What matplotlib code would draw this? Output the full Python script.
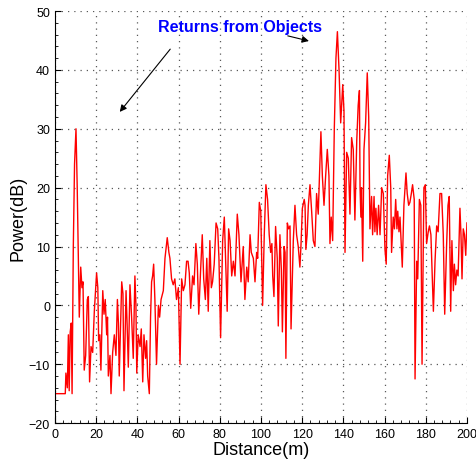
import matplotlib
matplotlib.use('Agg')
import matplotlib.pyplot as plt
from matplotlib.ticker import AutoMinorLocator

plt.rcParams['font.family'] = ['Liberation Sans', 'DejaVu Sans']

# distance (m) and received power (dB)
dist = [0, 5.0, 5.3, 6.0, 6.5, 6.9, 7.4, 7.9, 8.3, 8.9, 9.5, 10.2, 10.8, 11.8,
        12.5, 13.1, 13.6, 14.2, 14.9, 15.7, 16.2, 16.8, 17.5, 18.3, 19.1, 20.2,
        20.8, 21.2, 21.8, 22.3, 23.2, 23.8, 24.4, 25.1, 25.5, 25.9, 26.7, 27.2,
        28.0, 28.8, 29.6, 30.3, 30.8, 31.2, 32.4, 33.0, 33.5, 34.5, 35.0, 35.6,
        36.4, 37.2, 38.0, 38.8, 39.3, 39.7, 40.4, 41.3, 41.9, 42.6, 43.2, 44.0,
        44.5, 45.0, 45.8, 46.4, 46.9, 47.4, 47.9, 48.5, 49.3, 50.2, 50.8, 51.5,
        52.6, 53.4, 54.5, 55.3, 55.8, 56.6, 57.4, 58.2, 59.0, 59.9, 60.7, 61.5,
        62.3, 63.1, 63.9, 64.6, 65.2, 65.9, 66.8, 67.5, 68.4, 69.1, 69.8, 70.7,
        71.5, 72.2, 73.0, 73.7, 74.4, 75.2, 75.9, 76.5, 77.3, 78.2, 79.0, 79.6,
        80.4, 81.4, 82.2, 82.9, 83.6, 84.3, 85.0, 85.8, 86.6, 87.4, 88.5, 89.3,
        90.3, 91.4, 92.2, 93.1, 93.8, 94.7, 95.3, 96.3, 97.1, 97.9, 98.4, 99.2,
        99.9, 100.8, 101.6, 102.4, 103.2, 104.0, 104.7, 105.3, 105.7, 106.3,
        107.1, 107.9, 108.4, 109.2, 109.9, 110.4, 111.2, 111.7, 112.1, 112.8,
        113.4, 114.1, 114.6, 115.7, 116.5, 117.3, 118.1, 118.9, 119.4, 120.1,
        121.0, 121.4, 121.8, 122.4, 123.0, 123.8, 124.6, 125.4, 126.2, 127.0,
        127.8, 129.1, 129.8, 130.6, 131.4, 132.2, 133.0, 133.5, 134.1, 134.8,
        135.6, 136.4, 137.1, 137.9, 138.7, 139.7, 140.3, 140.8, 141.6, 142.4,
        143.2, 144.0, 144.8, 145.6, 146.5, 147.2, 147.8, 148.1, 148.5, 148.8,
        149.4, 150.0, 150.8, 151.6, 152.3, 152.9, 153.7, 154.2, 154.9, 155.3,
        155.8, 156.4, 157.1, 157.8, 158.6, 159.4, 160.2, 160.8, 161.5, 162.3,
        163.0, 163.4, 164.2, 164.8, 165.4, 166.0, 166.4, 167.0, 167.5, 168.0,
        168.6, 169.4, 170.4, 171.0, 171.7, 172.3, 173.0, 173.6, 174.4, 174.8,
        175.6, 176.1, 176.9, 177.6, 178.2, 179.1, 179.8, 180.4, 181.2, 181.8,
        182.5, 183.7, 184.5, 185.3, 186.0, 186.9, 187.7, 188.5, 189.2, 190.1,
        190.8, 191.4, 192.1, 192.7, 193.4, 193.9, 194.5, 195.1, 195.7, 196.6,
        197.1, 197.6, 198.2, 198.8, 199.4, 200.0]
power = [-15, -15, -11.5, -14, -5, -14.5, -4.5, -3, -15, 10, 24, 30, 20, -2,
         6.5, 3, 4, -11, -8.5, 1, 1.5, -13, -7, -8, -1, 5.5,
         3, -6, -5, -11, 2.5, -1.5, 1, -5, -2, -12, -8.5, -15,
         -8, -5, -8.5, 1, -3, -12, 4, 2, -14.5, 2.5, -3, -10.5,
         3.5, -2, -9, 5, 0, -11.5, -5, -7, -4, -13, -5, -9,
         -6, -12, -15, -2, 4, 5, 7, 1, -10, 0, -2, 1,
         2.5, 8, 11.5, 9, 8, 4.5, 3.5, 4.5, 1, 3, -10, 4.5,
         2.5, 3.5, 7.5, 7.5, 5.5, -0.5, 5, 3.5, 10.5, 7, -1.5, 6,
         12, 4.5, 1, 8, -1, 11, 3, 4, 7, 14, 13, 8,
         -5.5, 11, 15, 7, -1, 13, 11, 5, 7.5, 5, 15.5, 12,
         4, 10, 1, 6.5, 4, 12, 9, 8, 4, 9, 8, 17.5,
         16, 0, 12, 20.5, 18, 12, 9, 10.5, 5, 1.5,
         13.4, 8, -3.5, 12, 6, -4.5, 10, 9, -9, 14,
         13, 13.5, -4, 11, 17, 12, 10, 6.5, 10, 16.5,
         18, 17, 9.5, 12, 17, 20.5, 16, 11, 10, 19,
         15.5, 29.5, 22, 17, 22, 26.5, 22, 10.5, 15, 11,
         30, 42, 46.5, 40, 31, 37.5, 33, 9, 26, 25,
         15.5, 28.5, 26.5, 14.5, 28, 34, 36.5, 20, 15, 20,
         7.5, 26.5, 31, 39.5, 32, 13, 18.5, 12, 18.5, 12.5,
         16.5, 12, 17, 12, 20, 19, 9.5, 7, 22, 25.5,
         20, 9, 15, 13, 18, 13, 16, 12.5, 15, 11,
         6.5, 17, 22.5, 19, 17, 17.5, 19, 20.5, 18, -12.5,
         7.5, 4.5, 18, 17, -10, 20, 20.5, 10.5, 12.5, 13.5,
         12, -1, 7.5, 13.5, 12.5, 19, 19, 12, -1.5, 10,
         17, 18.5, -1, 11, 2.5, 7, 3.5, 6, 5, 16.5,
         12, 4.5, 13, 12, 8.5, 14]

fig = plt.figure(figsize=(4.76, 4.64), dpi=100)
ax = fig.add_axes([0.1155, 0.086, 0.8655, 0.888])

ax.plot(dist, power, color='red', lw=1.0)

ax.set_xlim(0, 200)
ax.set_ylim(-20, 50)
ax.set_xticks(range(0, 201, 20))
ax.set_yticks(range(-20, 51, 10))
ax.set_yticklabels(['\u221220', '\u221210', '0', '10', '20', '30', '40', '50'])
ax.xaxis.set_minor_locator(AutoMinorLocator(5))
ax.yaxis.set_minor_locator(AutoMinorLocator(5))
ax.tick_params(which='both', direction='in', labelsize=9, top=False, right=False)
ax.tick_params(which='major', length=4)
ax.tick_params(which='minor', length=2)
ax.grid(True, which='major', linestyle=(0, (1, 4)), color='0.35', lw=0.9)
ax.spines['top'].set_visible(False)
ax.spines['right'].set_visible(False)

ax.set_xlabel('Distance(m)', fontsize=13, labelpad=1)
ax.set_ylabel('Power(dB)', fontsize=13, labelpad=2)

ax.text(89.8, 47.3, 'Returns from Objects', color='blue', fontweight='bold',
        fontsize=11.5, ha='center', va='center')
ax.annotate('', xy=(30.6, 32.5), xytext=(56.8, 43.9),
            arrowprops=dict(arrowstyle='-|>', color='k', lw=0.8, mutation_scale=10))
ax.annotate('', xy=(124.6, 44.8), xytext=(111.7, 45.9),
            arrowprops=dict(arrowstyle='-|>', color='k', lw=0.8, mutation_scale=10))

fig.savefig('out.png', dpi=100)
